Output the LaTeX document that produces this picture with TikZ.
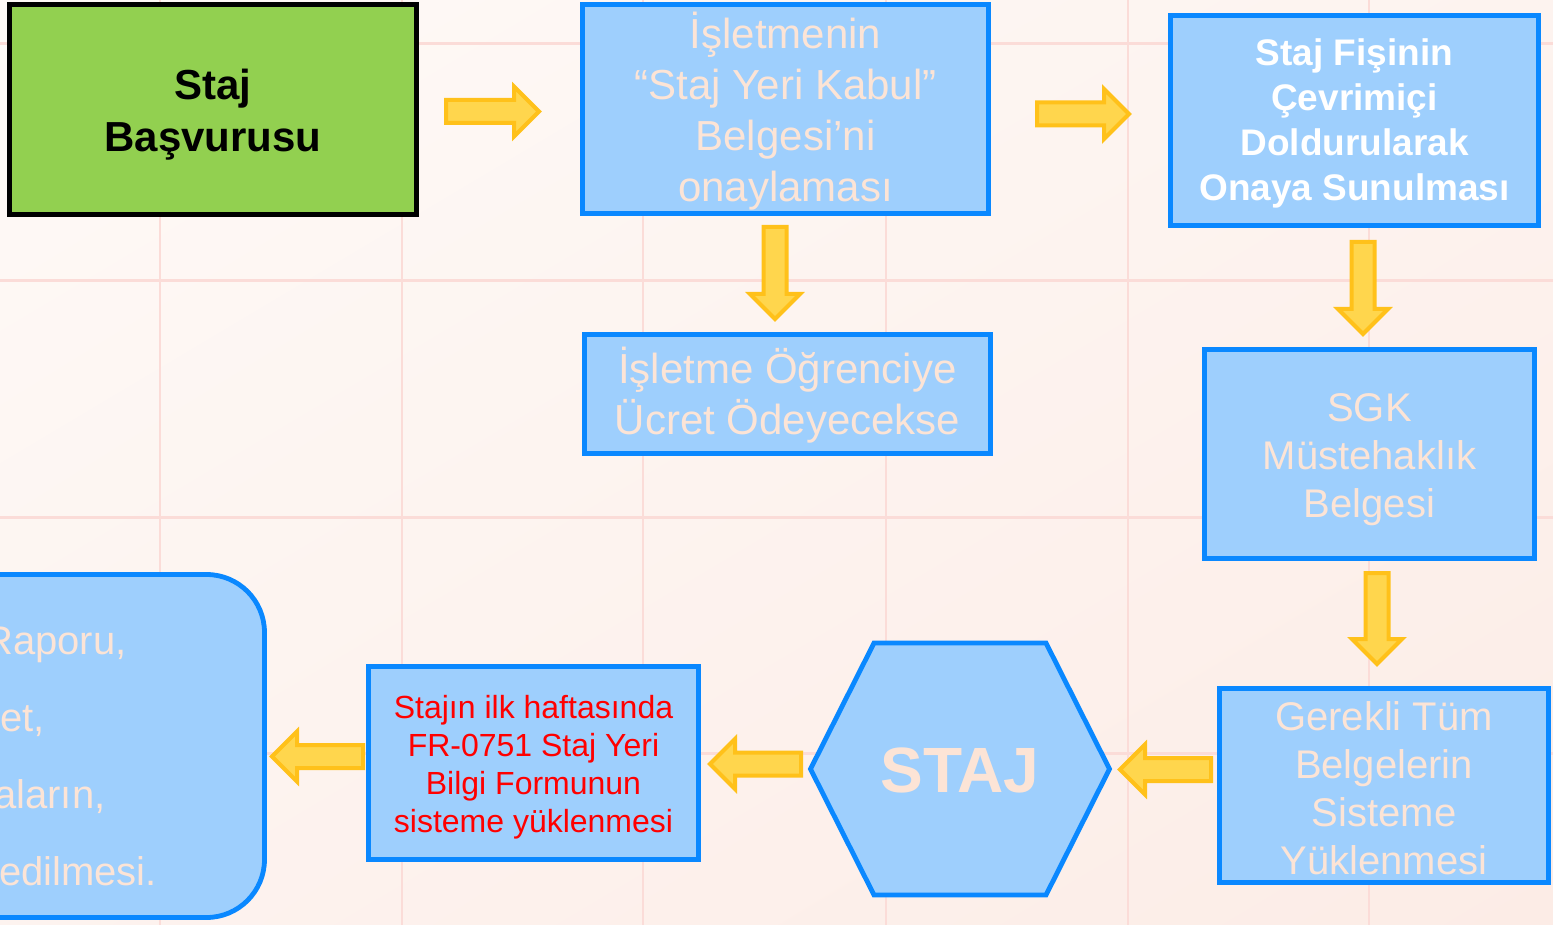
\documentclass[tikz,border=0pt]{standalone}
\usepackage{fontspec}
\setmainfont{Liberation Sans}
\usetikzlibrary{shadings}
\definecolor{bgA}{HTML}{FEFAF7}
\definecolor{bgB}{HTML}{FDF3EF}
\definecolor{bgC}{HTML}{FCECE6}
\definecolor{gridc}{HTML}{FBDCD8}
\definecolor{boxfill}{HTML}{9ECFFD}
\definecolor{boxline}{HTML}{0A88FF}
\definecolor{peach}{HTML}{FCE4D6}
\definecolor{startgreen}{HTML}{92D050}
\definecolor{arrfill}{HTML}{FFD64D}
\definecolor{arrline}{HTML}{FFC11A}
\definecolor{redtext}{HTML}{FF0000}
\begin{document}
\begin{tikzpicture}[x=1pt,y=-1pt,
  gridline/.style={draw=gridc},
  box/.style={rectangle, draw=boxline, fill=boxfill, line width=4.8pt, inner sep=0pt},
  startbox/.style={rectangle, draw=black, fill=startgreen, line width=5pt, inner sep=0pt},
  boxtext/.style={inner sep=0pt, align=center, text=peach},
  pics/blockarrow/.style={code={
    \filldraw[fill=arrfill, draw=arrline, line width=4pt, line join=miter]
      (0,-11.5) -- (#1-25,-11.5) -- (#1-25,-25) -- (#1,0) -- (#1-25,25)
      -- (#1-25,11.5) -- (0,11.5) -- cycle;}}
]
\useasboundingbox (0,0) rectangle (1553,925);
\begin{scope}
\clip (0,0) rectangle (1553,925);

% paper background with faint grid
\shade[upper left=bgA, upper right=bgB, lower left=bgB, lower right=bgC]
  (0,0) rectangle (1553,925);
\foreach \gx in {160,402,643,886,1128,1369}
  \draw[gridline, line width=2pt] (\gx,0) -- (\gx,925);
\foreach \gy in {44,281,517,753}
  \draw[gridline, line width=3pt] (0,\gy) -- (1553,\gy);

% process steps: frames
\node[startbox, minimum width=407pt, minimum height=210pt] (basvuru) at (213,109.5) {};
\node[box, minimum width=406pt, minimum height=209pt] (kabul) at (785.5,109) {};
\node[box, minimum width=368pt, minimum height=210pt] (fis) at (1354.5,120.5) {};
\node[box, minimum width=406pt, minimum height=119pt] (ucret) at (787.5,394) {};
\node[box, minimum width=330pt, minimum height=209pt] (sgk) at (1369.5,454) {};
\node[box, minimum width=329pt, minimum height=194pt] (belgeler) at (1384,785.5) {};
\node[box, minimum width=330pt, minimum height=193pt] (form) at (533.5,763) {};

% process steps: texts
\node[boxtext, text=black, font=\fontsize{42}{52}\selectfont\bfseries]
  (basvurut) at ([yshift=-5pt]basvuru.center) {Staj\\Başvurusu};
\node[boxtext, font=\fontsize{42}{51}\selectfont]
  (kabult) at ([yshift=-2pt]kabul.center)
  {İşletmenin\\“Staj Yeri Kabul”\\Belgesi’ni\\onaylaması};
\node[boxtext, text=white, font=\fontsize{37}{45}\selectfont\bfseries]
  (fist) at ([yshift=-3pt]fis.center)
  {Staj Fişinin\\Çevrimiçi\\Doldurularak\\Onaya Sunulması};
\node[boxtext, font=\fontsize{42}{51}\selectfont]
  (ucrett) at ([yshift=-1pt]ucret.center) {İşletme Öğrenciye\\Ücret Ödeyecekse};
\node[boxtext, font=\fontsize{40}{48}\selectfont]
  (sgkt) at ([yshift=-6pt]sgk.center) {SGK\\Müstehaklık\\Belgesi};
\node[boxtext, font=\fontsize{40}{48}\selectfont]
  (belgelert) at ([yshift=-3pt]belgeler.center)
  {Gerekli Tüm\\Belgelerin\\Sisteme\\Yüklenmesi};
\node[boxtext, text=redtext, font=\fontsize{32}{38}\selectfont]
  (formt) at ([yshift=-4pt]form.center)
  {Stajın ilk haftasında\\FR-0751 Staj Yeri\\Bilgi Formunun\\sisteme yüklenmesi};

% the internship itself
\draw[boxline, fill=boxfill, line width=4.8pt, line join=miter]
  (810.5,769) coordinate (hxw) -- (874,643) -- (1046,643)
  -- (1109.5,769) coordinate (hxe) -- (1046,895) -- (874,895) -- cycle;
\node[text=peach, font=\fontsize{64}{70}\selectfont\bfseries] (staj) at (960,770) {STAJ};

% final step, running off the left edge
\node[box, rounded corners=58pt, minimum width=364pt, minimum height=343pt]
  (son) at (82.5,746) {};
\begin{scope}[every node/.style={anchor=base west, inner sep=0pt, text=peach,
    font=\fontsize{40}{76}\selectfont}]
  \node (son1) at (-16,654) {Raporu,};
  \node (son2) at (0,731) {et,};
  \node (son3) at (-6,808) {aların,};
  \node (son4) at (-1,885) {edilmesi.};
\end{scope}

% flow arrows
\pic (ar1) at (446,111.5) {blockarrow=93};
\pic (ar2) at (1037,114) {blockarrow=92};
\pic[rotate=-90] (ar3) at (775,227) {blockarrow=92};
\pic[rotate=-90] (ar4) at (1363,242) {blockarrow=92};
\pic[rotate=-90] (ar5) at (1377,573) {blockarrow=91};
\pic[rotate=180] (ar6) at (1211,769.5) {blockarrow=91};
\pic[rotate=180] (ar7) at (801,764) {blockarrow=91};
\pic[rotate=180] (ar8) at (363,756.5) {blockarrow=91};
\end{scope}
\end{tikzpicture}
\end{document}
